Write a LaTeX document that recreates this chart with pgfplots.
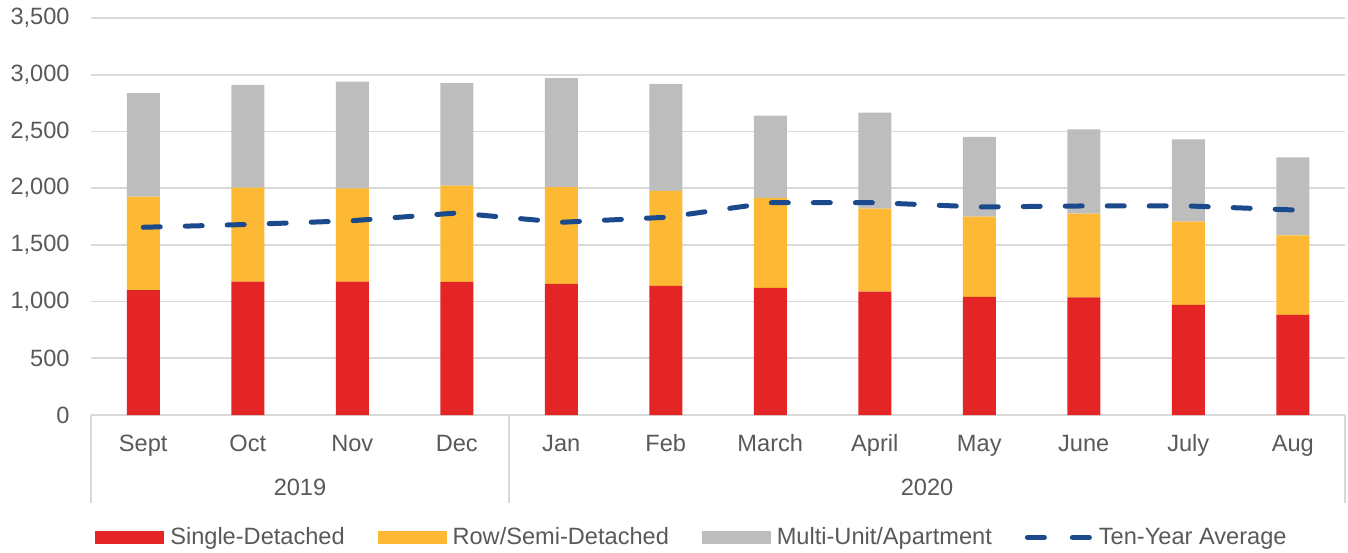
\documentclass[border=0pt]{standalone}
\usepackage{fontspec}
\setmainfont{Liberation Sans}
\usepackage{pgfplots}
\pgfplotsset{compat=1.18}
\definecolor{sdred}{HTML}{E32526}
\definecolor{rowyel}{HTML}{FDB933}
\definecolor{mugray}{HTML}{BDBDBD}
\definecolor{avgblue}{HTML}{1B4A8C}
\definecolor{txt}{HTML}{595959}
\definecolor{gridc}{HTML}{D9D9D9}
\pgfplotsset{
  base/.style={
    width=627pt, height=198.5pt, scale only axis,
    at={(0,0)}, anchor=south west,
    xmin=-0.5, xmax=11.5, ymin=0, ymax=3500,
  }
}
\begin{document}
\begin{tikzpicture}[font=\fontsize{11.8pt}{14pt}\selectfont, text=txt]
\path[use as bounding box] (-45.5pt,-68.5pt) rectangle (628.5pt,207.5pt);
\begin{axis}[base,
  ybar stacked, bar width=16.5pt,
  axis line style={draw=none},
  ymajorgrids, grid style={gridc, line width=0.9pt},
  major tick length=0,
  ytick={0,500,...,3500},
  xtick={0,...,11},
  xticklabels={Sept,Oct,Nov,Dec,Jan,Feb,March,April,May,June,July,Aug},
  xticklabel style={anchor=base, inner sep=0pt, yshift=-18.4pt},
  yticklabel style={anchor=east, inner sep=0pt, xshift=-10.5pt},
  /pgf/number format/.cd, 1000 sep={,}, assume math mode=true,
  /pgfplots/.cd,
  clip=false,
]
\addplot[fill=sdred, draw=none] coordinates {(0,1102) (1,1176) (2,1176) (3,1173) (4,1155) (5,1138) (6,1120) (7,1088) (8,1041) (9,1038) (10,970) (11,882)};
\addplot[fill=rowyel, draw=none] coordinates {(0,823) (1,829) (2,823) (3,849) (4,853) (5,837) (6,794) (7,732) (8,708) (9,737) (10,735) (11,702)};
\addplot[fill=mugray, draw=none] coordinates {(0,912) (1,905) (2,940) (3,903) (4,961) (5,944) (6,726) (7,846) (8,702) (9,744) (10,726) (11,688)};
\draw[gridc, line width=0.9pt] (axis cs:-0.5,0) -- ([yshift=-44pt]axis cs:-0.5,0);
\draw[gridc, line width=0.9pt] (axis cs:3.5,0) -- ([yshift=-44pt]axis cs:3.5,0);
\draw[gridc, line width=0.9pt] (axis cs:11.5,0) -- ([yshift=-44pt]axis cs:11.5,0);
\node[anchor=base, inner sep=0pt, yshift=-40pt] at (axis cs:1.5,0) {2019};
\node[anchor=base, inner sep=0pt, yshift=-40pt] at (axis cs:7.5,0) {2020};
\end{axis}
\begin{axis}[base, hide axis,
  legend columns=4,
  legend style={at={(0.5,0)}, anchor=north, yshift=-52pt, xshift=-12.5pt, draw=none, fill=none,
    font=\fontsize{11.8pt}{14pt}\selectfont, text=txt,
    /tikz/every odd column/.append style={column sep=1pt},
    /tikz/every even column/.append style={column sep=14.5pt}},
]
\addlegendimage{legend image code/.code={\fill[sdred] (0pt,-3pt) rectangle (34pt,3pt);}}
\addlegendentry{Single-Detached}
\addlegendimage{legend image code/.code={\fill[rowyel] (0pt,-3pt) rectangle (34pt,3pt);}}
\addlegendentry{Row/Semi-Detached}
\addlegendimage{legend image code/.code={\fill[mugray] (0pt,-3pt) rectangle (34pt,3pt);}}
\addlegendentry{Multi-Unit/Apartment}
\addplot[avgblue, line width=2.5pt, line cap=round, dash pattern=on 8.5pt off 12.5pt,
  legend image code/.code={\draw[avgblue, line width=2.5pt, line cap=round] (1.25pt,0) -- (10.25pt,0) (23.75pt,0) -- (32.75pt,0);}]
  coordinates {(0,1655) (1,1680) (2,1713) (3,1781) (4,1699) (5,1743) (6,1872) (7,1872) (8,1834) (9,1843) (10,1843) (11,1808)};
\addlegendentry{Ten-Year Average}
\end{axis}
\end{tikzpicture}
\end{document}
